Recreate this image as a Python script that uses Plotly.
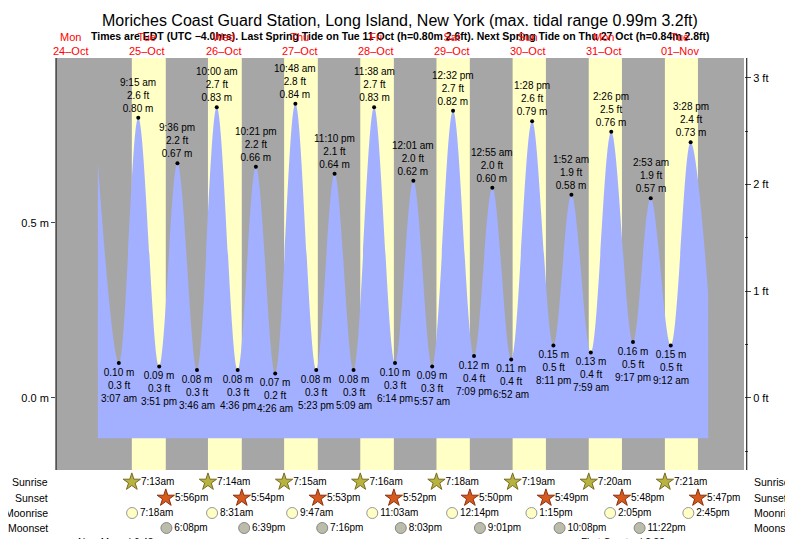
import plotly.graph_objects as go

FT = 0.3048
# hours measured from Mon 24-Oct 00:00
tide_hours = [20.5, 27.12, 33.25, 39.85, 45.6, 51.77, 58.0, 64.6, 70.35, 76.43, 82.8, 89.38, 95.17,
              101.15, 107.63, 114.23, 120.02, 125.95, 132.53, 139.15, 144.92, 150.87, 157.47,
              164.18, 169.87, 175.98, 182.43, 189.28, 194.88, 201.2, 207.47, 213.0]
tide_m = [0.67, 0.10, 0.80, 0.09, 0.67, 0.08, 0.83, 0.08, 0.66, 0.07, 0.84, 0.08, 0.64,
          0.08, 0.83, 0.10, 0.62, 0.09, 0.82, 0.12, 0.60, 0.11, 0.79,
          0.15, 0.58, 0.13, 0.76, 0.16, 0.57, 0.15, 0.73, 0.30]
tide_ft = ["", "0.3", "2.6", "0.3", "2.2", "0.3", "2.7", "0.3", "2.2", "0.2", "2.8", "0.3", "2.1",
           "0.3", "2.7", "0.3", "2.0", "0.3", "2.7", "0.4", "2.0", "0.4", "2.6",
           "0.5", "1.9", "0.4", "2.5", "0.5", "1.9", "0.5", "2.4", ""]
tide_time = ["", "3:07 am", "9:15 am", "3:51 pm", "9:36 pm", "3:46 am", "10:00 am", "4:36 pm", "10:21 pm",
             "4:26 am", "10:48 am", "5:23 pm", "11:10 pm", "5:09 am", "11:38 am", "6:14 pm", "12:01 am",
             "5:57 am", "12:32 pm", "7:09 pm", "12:55 am", "6:52 am", "1:28 pm", "8:11 pm", "1:52 am",
             "7:59 am", "2:26 pm", "9:17 pm", "2:53 am", "9:12 am", "3:28 pm", ""]
tide_kind = ["", "L", "H", "L", "H", "L", "H", "L", "H", "L", "H", "L", "H", "L", "H", "L", "H",
             "L", "H", "L", "H", "L", "H", "L", "H", "L", "H", "L", "H", "L", "H", ""]

day_names = ["Mon<br>24–Oct", "Tue<br>25–Oct", "Wed<br>26–Oct", "Thu<br>27–Oct", "Fri<br>28–Oct",
             "Sat<br>29–Oct", "Sun<br>30–Oct", "Mon<br>31–Oct", "Tue<br>01–Nov"]
sunrise_h = [7.22, 7.23, 7.25, 7.27, 7.30, 7.32, 7.33, 7.35]
sunrise_t = ["7:13am", "7:14am", "7:15am", "7:16am", "7:18am", "7:19am", "7:20am", "7:21am"]
sunset_h = [17.93, 17.90, 17.88, 17.87, 17.83, 17.82, 17.80, 17.78]
sunset_t = ["5:56pm", "5:54pm", "5:53pm", "5:52pm", "5:50pm", "5:49pm", "5:48pm", "5:47pm"]
moonrise_h = [7.30, 8.52, 9.78, 11.05, 12.23, 13.25, 14.08, 14.75]
moonrise_t = ["7:18am", "8:31am", "9:47am", "11:03am", "12:14pm", "1:15pm", "2:05pm", "2:45pm"]
moonset_h = [18.13, 18.65, 19.27, 20.05, 21.02, 22.13, 23.37]
moonset_t = ["6:08pm", "6:39pm", "7:16pm", "8:03pm", "9:01pm", "10:08pm", "11:22pm"]

FONT = "Liberation Sans, Arial"
XR = [7.3, 224.3]
BASE = -0.115
H_PLOT = 539 - 50  # paper height in px

fig = go.Figure()
fig.add_trace(go.Scatter(x=[tide_hours[0], tide_hours[-1]], y=[BASE, BASE], mode="lines",
                         line=dict(width=0), hoverinfo="skip", showlegend=False))
fig.add_trace(go.Scatter(x=tide_hours, y=tide_m, mode="lines", line=dict(width=0, shape="spline"),
                         fill="tonexty", fillcolor="#a3b0ff", showlegend=False))
ex = [i for i, k in enumerate(tide_kind) if k]
fig.add_trace(go.Scatter(x=[tide_hours[i] for i in ex], y=[tide_m[i] for i in ex], mode="markers",
                         marker=dict(color="black", size=4), showlegend=False))
fig.add_trace(go.Scatter(x=[XR[0]], y=[0], yaxis="y2", mode="markers",
                         marker=dict(opacity=0), showlegend=False, hoverinfo="skip"))

for i in ex:
    if tide_kind[i] == "H":
        txt = f"{tide_time[i]}<br>{tide_ft[i]} ft<br>{tide_m[i]:.2f} m"
        fig.add_annotation(x=tide_hours[i], y=tide_m[i], text=txt, showarrow=False,
                           yanchor="bottom", yshift=2, font=dict(size=10, family=FONT, color="black"))
    else:
        txt = f"{tide_m[i]:.2f} m<br>{tide_ft[i]} ft<br>{tide_time[i]}"
        fig.add_annotation(x=tide_hours[i], y=tide_m[i], text=txt, showarrow=False,
                           yanchor="top", yshift=-2, font=dict(size=10, family=FONT, color="black"))

shapes = [dict(type="rect", xref="x domain", yref="y domain", x0=0, x1=1, y0=0, y1=1,
               fillcolor="#a6a6a6", line_width=0, layer="below")]
for d in range(8):
    day0 = 24 * (d + 1)
    shapes.append(dict(type="rect", xref="x", yref="y domain", x0=day0 + sunrise_h[d],
                       x1=day0 + sunset_h[d], y0=0, y1=1, fillcolor="#ffffc6", line_width=0, layer="below"))
shapes.append(dict(type="line", xref="x domain", yref="y domain", x0=0, x1=0, y0=0, y1=1,
                   line=dict(color="black", width=1)))
shapes.append(dict(type="line", xref="x domain", yref="y domain", x0=1.004, x1=1.004, y0=0, y1=1,
                   line=dict(color="black", width=1)))
fig.update_layout(shapes=shapes)

fig.add_annotation(x=0.5, xref="paper", y=1 + (50 - 12) / H_PLOT, yref="paper", yanchor="middle",
                   text="Moriches Coast Guard Station, Long Island, New York (max. tidal range 0.99m 3.2ft)",
                   showarrow=False, font=dict(size=16, family=FONT, color="black"))
fig.add_annotation(x=0.5, xref="paper", y=1 + (50 - 28) / H_PLOT, yref="paper", yanchor="middle",
                   text="<b>Times are EDT (UTC −4.0hrs). Last Spring Tide on Tue 11 Oct (h=0.80m 2.6ft). Next Spring Tide on Thu 27 Oct (h=0.84m 2.8ft)</b>",
                   showarrow=False, font=dict(size=10.5, family=FONT, color="black"))

for d, name in enumerate(day_names):
    fig.add_annotation(x=24 * d + 12, y=1, xref="x", yref="paper", yanchor="bottom", yshift=-1, text=name,
                       showarrow=False, font=dict(color="red", size=11, family=FONT))

rows = [(65, sunrise_h, sunrise_t, dict(symbol="star", size=13, color="#b7b340", line=dict(color="#7a6a20", width=1))),
        (49, sunset_h, sunset_t, dict(symbol="star", size=13, color="#d65a1e", line=dict(color="#8a3010", width=1))),
        (34, moonrise_h, moonrise_t, dict(symbol="circle", size=11, color="#ffffc4", line=dict(color="#999999", width=1))),
        (19, moonset_h, moonset_t, dict(symbol="circle", size=11, color="#bcbcaa", line=dict(color="#888888", width=1)))]
for yv, hs, ts, mk in rows:
    xs = [24 * (d + 1) + h for d, h in enumerate(hs)]
    fig.add_trace(go.Scatter(x=xs, y=[yv] * len(xs), yaxis="y3", mode="markers+text", text=ts,
                             textposition="middle right", marker=mk, cliponaxis=False,
                             textfont=dict(size=10, family=FONT, color="black"), showlegend=False))
labels = ["Sunrise", "Sunset", "Moonrise", "Moonset"]
for (yv, _, _, _), lab in zip(rows, labels):
    fig.add_annotation(x=-0.008, xref="paper", y=yv, yref="y3", text=lab, xanchor="right",
                       showarrow=False, font=dict(size=10.5, family=FONT, color="black"))
    fig.add_annotation(x=1.012, xref="paper", y=yv, yref="y3", text=lab, xanchor="left",
                       showarrow=False, font=dict(size=10.5, family=FONT, color="black"))
fig.add_annotation(x=28.3, y=5, yref="y3", text="New Moon | 6:48am", showarrow=False,
                   font=dict(size=10, family=FONT, color="black"))
fig.add_annotation(x=188.2, y=5, yref="y3", text="First Quarter | 2:38am", showarrow=False,
                   font=dict(size=10, family=FONT, color="black"))

DOM = 77 / H_PLOT
fig.update_layout(
    width=793, height=539, margin=dict(l=48, r=57, t=50, b=0, autoexpand=False),
    paper_bgcolor="white", plot_bgcolor="white", font=dict(family=FONT, color="black"),
    xaxis=dict(range=XR, visible=False, fixedrange=True, automargin=False),
    yaxis=dict(domain=[DOM, 1], range=[-0.206, 0.971], tickvals=[0, 0.5], ticktext=["0.0 m", "0.5 m"],
               ticks="outside", ticklen=4, showgrid=False, zeroline=False, automargin=False,
               tickfont=dict(size=11, family=FONT, color="black")),
    yaxis2=dict(overlaying="y", side="right", range=[-0.206 / FT, 0.971 / FT], tickvals=[0, 1, 2, 3],
                ticktext=["0 ft", "1 ft", "2 ft", "3 ft"], ticks="outside", ticklen=6, automargin=False,
                minor=dict(tickvals=[-0.5, 0.5, 1.5, 2.5], ticks="outside", ticklen=3),
                showgrid=False, zeroline=False, tickfont=dict(size=11, family=FONT, color="black")),
    yaxis3=dict(domain=[0, DOM], range=[0, 77], visible=False, fixedrange=True),
)
fig.write_html("out.html")
